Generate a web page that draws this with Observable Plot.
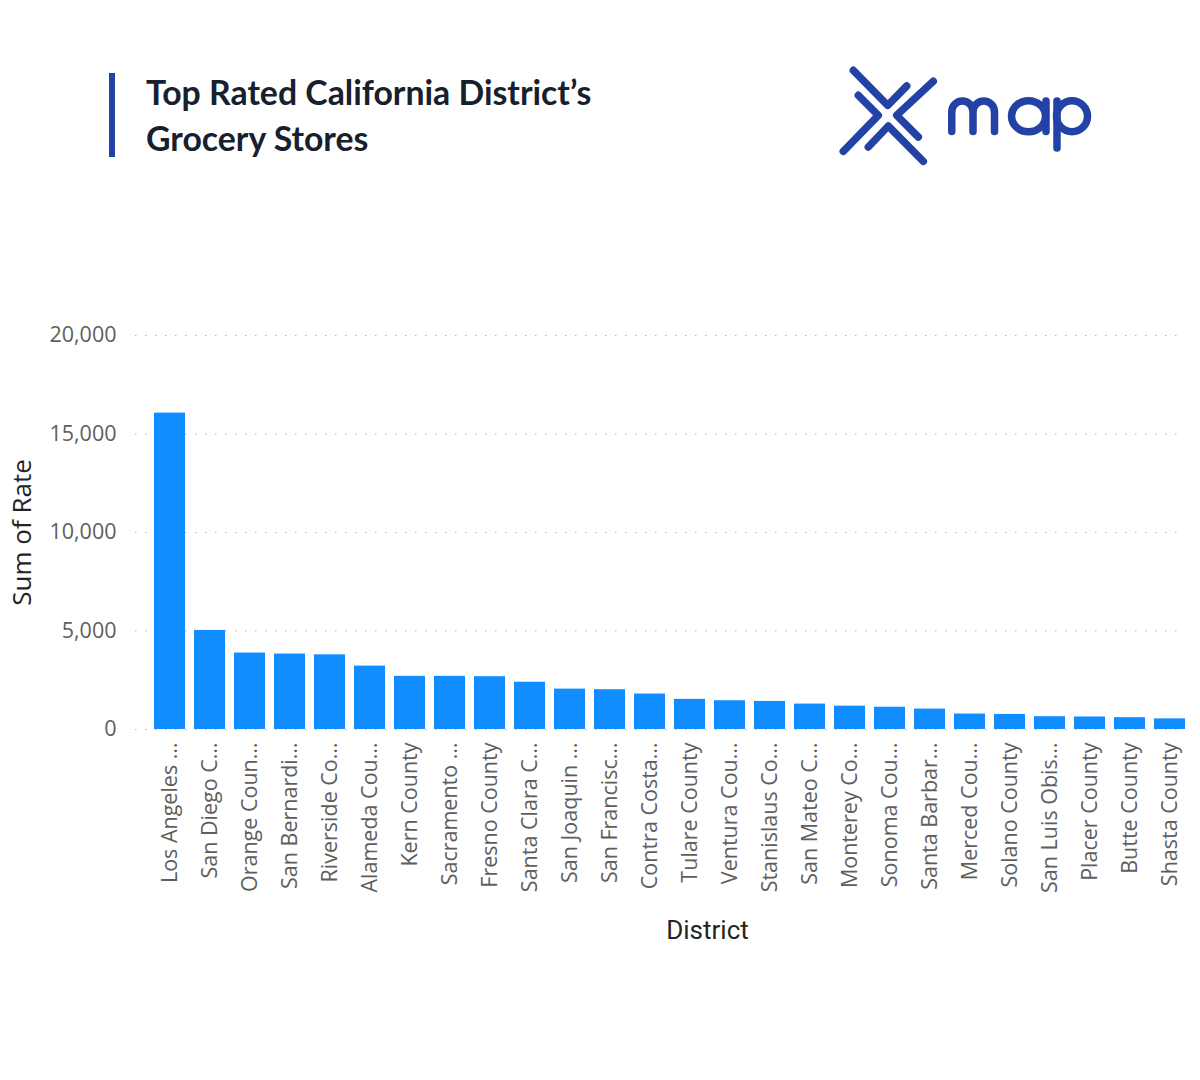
<!DOCTYPE html>
<html>
<head>
<meta charset="utf-8">
<script src="https://cdn.jsdelivr.net/npm/d3@7"></script>
<script src="https://cdn.jsdelivr.net/npm/@observablehq/plot@0.6"></script>
<style>
  html, body { margin: 0; padding: 0; background: #ffffff; }
  #page { position: relative; width: 1200px; height: 1080px; overflow: hidden; background: #fff; }
  #header { position: relative; width: 1200px; height: 300px; }
  #title { position: absolute; left: 146px; top: 69px; font-family: Lato, sans-serif; font-weight: 700;
           font-size: 33.8px; line-height: 46px; color: #17202d; margin: 0; }
  #bar { position: absolute; left: 109px; top: 73px; width: 6px; height: 84px; background: #2342a5; }
  #logo { position: absolute; left: 0; top: 0; }
  #chart { position: relative; }
</style>
</head>
<body>
<div id="page">
  <div id="header">
    <div id="bar"></div>
    <h1 id="title">Top Rated California District’s<br>Grocery Stores</h1>
    <svg id="logo" width="1200" height="300" viewBox="0 0 1200 300">
      <g fill="none" stroke="#2342a5" stroke-width="7.5" stroke-linecap="round" stroke-linejoin="round">
        <polyline points="853.3,70.3 887.7,105.3 906.7,86"/>
        <polyline points="858.3,95.3 878.3,115.3 843.3,151.3"/>
        <polyline points="933.3,81.3 896.7,115.3 918.3,137"/>
        <polyline points="868.3,147 888.3,126 923.3,161.3"/>
        <path d="M951.75,131.5 V112 A10.6,11 0 0 1 973,112 V131.5 M973,112 A10.75,11 0 0 1 994.5,112 V131.5"/>
        <ellipse cx="1028.5" cy="116.25" rx="17" ry="15.5"/>
        <path d="M1046,101 V131.5"/>
        <path d="M1057,101 V148"/>
        <circle cx="1072" cy="116.25" r="15.5"/>
      </g>
    </svg>
  </div>
  <div id="chart"></div>
</div>
<script>
const districts = [
  "Los Angeles County", "San Diego County", "Orange County", "San Bernardino County",
  "Riverside County", "Alameda County", "Kern County", "Sacramento County",
  "Fresno County", "Santa Clara County", "San Joaquin County", "San Francisco County",
  "Contra Costa County", "Tulare County", "Ventura County", "Stanislaus County",
  "San Mateo County", "Monterey County", "Sonoma County", "Santa Barbara County",
  "Merced County", "Solano County", "San Luis Obispo County", "Placer County",
  "Butte County", "Shasta County"
];
const tickLabels = [
  "Los Angeles …", "San Diego C…", "Orange Coun…", "San Bernardi…",
  "Riverside Co…", "Alameda Cou…", "Kern County", "Sacramento …",
  "Fresno County", "Santa Clara C…", "San Joaquin …", "San Francisc…",
  "Contra Costa…", "Tulare County", "Ventura Cou…", "Stanislaus Co…",
  "San Mateo C…", "Monterey Co…", "Sonoma Cou…", "Santa Barbar…",
  "Merced Cou…", "Solano County", "San Luis Obis…", "Placer County",
  "Butte County", "Shasta County"
];
const rates = [
  16060, 5030, 3880, 3830,
  3790, 3220, 2700, 2700,
  2680, 2400, 2050, 2020,
  1800, 1530, 1460, 1425,
  1290, 1185, 1130, 1035,
  785, 765, 650, 635,
  600, 540
];
const yTicks = [0, 5000, 10000, 15000, 20000];
const yTitle = "Sum of Rate";
const xTitle = "District";

const data = districts.map((d, i) => ({district: d, rate: rates[i]}));
const labelOf = new Map(districts.map((d, i) => [d, tickLabels[i]]));
const fmt = d3.format(",");

const chart = Plot.plot({
  width: 1200,
  height: 780,
  marginTop: 35,
  marginBottom: 351,
  marginLeft: 135,
  marginRight: 15,
  style: {fontFamily: "'Open Sans', sans-serif", fontSize: "21.5px", color: "#605E5C", background: "#ffffff", overflow: "visible"},
  x: {
    domain: districts,
    padding: 0.23,
    insetLeft: 7.5,
    insetRight: -12,
    label: null,
    tickSize: 0,
    tickPadding: 13,
    tickRotate: -90,
    tickFormat: d => labelOf.get(d)
  },
  y: {
    domain: [0, 20000],
    ticks: yTicks,
    tickFormat: fmt,
    tickSize: 0,
    tickPadding: 19,
    label: null
  },
  marks: [
    Plot.ruleY(yTicks, {stroke: "#b8b6b4", strokeOpacity: 1, strokeWidth: 1.2, strokeDasharray: "1.5,8.5"}),
    Plot.barY(data, {x: "district", y: "rate", fill: "#118DFF"}),
    Plot.text([yTitle], {frameAnchor: "left", textAnchor: "middle", rotate: -90, dx: -113, fontSize: 26, fill: "#252423", fontFamily: "'Open Sans', sans-serif"}),
    Plot.text([xTitle], {frameAnchor: "bottom", textAnchor: "middle", dx: 47, dy: 201, fontSize: 26, fill: "#252423", fontFamily: "Roboto, sans-serif", lineAnchor: "middle"})
  ]
});
document.getElementById("chart").appendChild(chart);
</script>
</body>
</html>
